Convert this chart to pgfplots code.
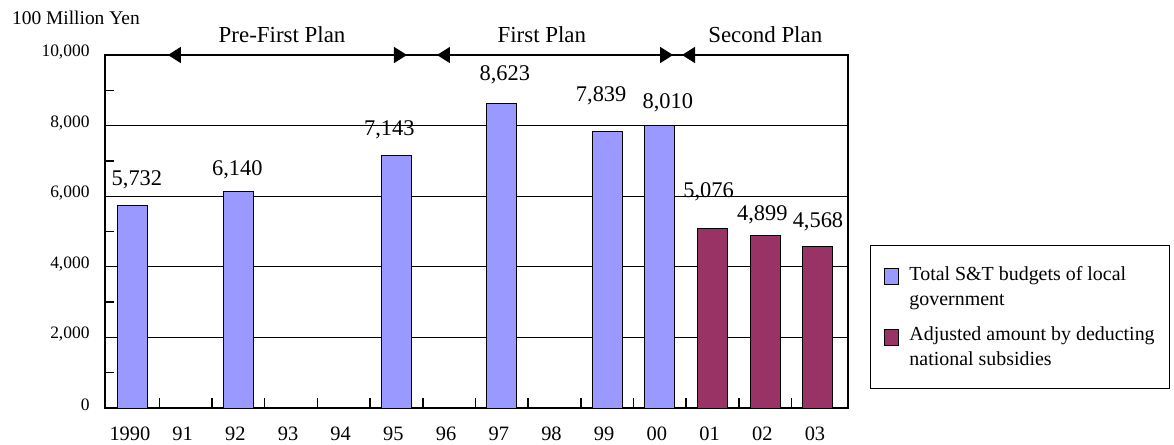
\documentclass[border=0pt]{standalone}
\usepackage{fontspec}
\setmainfont{Liberation Serif}
\usepackage{pgfplots}
\usepackage{pgfplotstable}
\pgfplotsset{compat=1.18}
\usetikzlibrary{arrows.meta}
\definecolor{barblue}{HTML}{9999FF}
\definecolor{barred}{HTML}{993366}
\pgfplotstableread{
x y dx dy
0 5732 4 25.7
2 6140 -1 21
5 7143 -7 26
7 8623 3 29
9 7839 -6 36
10 8010 8 22
}\tblA
\pgfplotstableread{
x y dx dy
11 5076 -4 37
12 4899 -3 20
13 4568 0 25
}\tblB
\begin{document}
\begin{tikzpicture}
\useasboundingbox (-105bp,-37bp) rectangle (1069bp,408bp);
\begin{axis}[
  scale only axis, width=743bp, height=353bp,
  xmin=-0.53, xmax=13.57, ymin=0, ymax=10000,
  clip=false,
  ybar, bar width=30bp, bar shift=0pt,
  xtick={0,...,13},
  xticklabels={1990,91,92,93,94,95,96,97,98,99,00,01,02,03},
  ytick={0,2000,...,10000},
  minor ytick={1000,3000,...,9000},
  xtick pos=bottom, ytick pos=left,
  scaled y ticks=false,
  ymajorgrids, major grid style={black, line width=0.8bp},
  major tick length=0bp,
  minor tick length=9bp,
  every minor tick/.append style={black, line width=1.5bp},
  tick align=inside,
  axis line style={black, line width=1.5bp},
  xticklabel style={font=\fontsize{20.5}{24}\selectfont, yshift=-15bp, xshift=-3bp},
  yticklabel style={font=\fontsize{17.5}{20}\selectfont, xshift=-12bp, yshift=3bp,
    /pgf/number format/fixed, /pgf/number format/1000 sep={,}},
  /pgf/number format/1000 sep={,},
  /pgf/number format/assume math mode=true,
  nodes near coords,
  visualization depends on={\thisrow{dx} \as \dx},
  visualization depends on={\thisrow{dy} \as \dy},
  every node near coord/.append style={anchor=center, xshift=\dx bp, yshift=\dy bp, font=\fontsize{22.5}{26}\selectfont, black},
  legend style={at={(1.0296,0.4618)}, anchor=north west, draw=black, line width=1bp,
    inner xsep=13bp, inner ysep=19bp, row sep=16bp,
    font=\fontsize{20}{25}\selectfont, cells={anchor=west, align=left}},
]
\pgfplotsinvokeforeach{0.5,1.5,2.5,3.5,4.5,5.5,6.5,7.5,8.5,9.5,10.5,11.5,12.5}{
  \draw[black, line width=1.5bp] (axis cs:#1,0) -- ++(0bp,10bp);
}
\addplot[fill=barblue, draw=black, line width=1bp,
  legend image code/.code={\draw[fill=barblue, draw=black, line width=1bp] (2bp,2bp) rectangle (16bp,18bp); \path (25bp,10bp);}]
  table[x=x, y=y] {\tblA};
\addlegendentry{Total S\&T budgets of local\\government}
\addplot[fill=barred, draw=black, line width=1bp,
  legend image code/.code={\draw[fill=barred, draw=black, line width=1bp] (2bp,2bp) rectangle (16bp,18bp); \path (25bp,10bp);}]
  table[x=x, y=y] {\tblB};
\addlegendentry{Adjusted amount by deducting\\national subsidies}

\draw[line width=1.5bp, {Triangle[length=13bp,width=16bp]}-{Triangle[length=13bp,width=16bp]}] (axis cs:0.664,10000) -- (axis cs:5.20,10000);
\draw[line width=1.5bp, {Triangle[length=13bp,width=16bp]}-{Triangle[length=13bp,width=16bp]}] (axis cs:5.77,10000) -- (axis cs:10.25,10000);
\draw[line width=1.5bp, {Triangle[length=13bp,width=16bp]}-] (axis cs:10.42,10000) -- (axis cs:13.57,10000);
\node[font=\fontsize{23}{27}\selectfont] at (axis cs:2.83,10567) {Pre-First Plan};
\node[font=\fontsize{23}{27}\selectfont] at (axis cs:7.76,10567) {First Plan};
\node[font=\fontsize{23}{27}\selectfont] at (axis cs:12.0,10567) {Second Plan};
\node[font=\fontsize{19.5}{23}\selectfont, anchor=west, inner sep=0pt] at (axis cs:-2.296,11048) {100 Million Yen};
\end{axis}
\end{tikzpicture}
\end{document}
